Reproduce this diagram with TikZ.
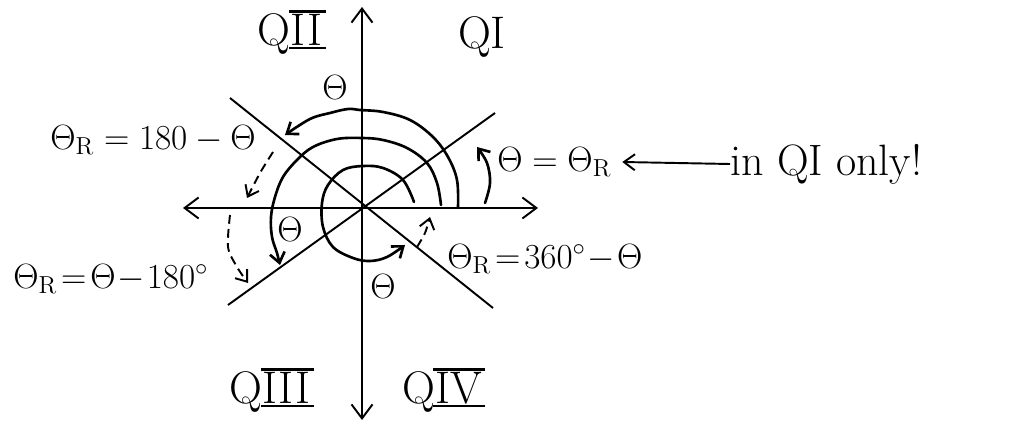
\RequirePackage{fix-cm}
\documentclass[tikz,border=0pt]{standalone}
\usetikzlibrary{arrows.meta}
\newcommand{\rnbar}[1]{\setbox0\hbox{#1}\rlap{\kern-0.04em\rule[-0.09em]{\dimexpr\wd0+0.12em\relax}{0.055em}}\rlap{\kern-0.04em\rule[\dimexpr\ht0+0.03em\relax]{\dimexpr\wd0+0.12em\relax}{0.055em}}\box0}
\newcommand{\tight}{\thickmuskip=2mu\medmuskip=1mu}
\begin{document}
\begin{tikzpicture}[x=0.02cm,y=0.02cm,
  axis/.style={line width=1.1pt,{Straight Barb[length=0.28cm,width=0.42cm]}-{Straight Barb[length=0.28cm,width=0.42cm]}},
  ray/.style={line width=1.1pt},
  turn/.style={line width=1.5pt,line cap=round,-{Straight Barb[length=0.2cm,width=0.3cm]}},
  refl/.style={line width=1.1pt,dash pattern=on 5pt off 3pt,-{Straight Barb[length=0.2cm,width=0.3cm]}},
  lab/.style={font=\fontsize{20}{24}\selectfont, inner sep=0pt},
  note/.style={font=\fontsize{25}{30}\selectfont, inner sep=0pt},
  quad/.style={font=\fontsize{26}{30}\selectfont, inner sep=0pt}]
\useasboundingbox (0,0) rectangle (1031,422);
\coordinate (O) at (362,214);
\coordinate (top) at (362,415);
\coordinate (bottom) at (362,2);
\coordinate (left) at (183,214);
\coordinate (right) at (538,214);
\coordinate (nw) at (230,324);
\coordinate (se) at (493,114);
\coordinate (sw) at (228,117);
\coordinate (ne) at (495,309);
\draw[axis] (bottom) -- (top);
\draw[axis] (left) -- (right);
\draw[ray] (nw) -- (se);
\draw[ray] (sw) -- (ne);
% inner turn (QIV angle)
\draw[turn] plot[smooth,tension=0.6] coordinates {(414,220) (403,242) (383,254) (363,256) (343,252) (328,237) (322,219) (323,195) (333,175) (353,164) (370,161) (387,165) (405,177)};
% second turn (QIII angle)
\draw[turn] plot[smooth,tension=0.6] coordinates {(441,217) (437,239) (427,259) (407,274) (383,282) (362,284) (337,283) (313,275) (297,262) (283,245) (275,225) (271,205) (272,185) (277,169) (280,157)};
% third turn (QII angle)
\draw[turn] plot[smooth,tension=0.6] coordinates {(458,215) (457,242) (448,265) (433,285) (410,302) (383,310) (360,312) (348,313) (330,309) (310,303) (285,287)};
% QI angle
\draw[turn] plot[smooth,tension=0.6] coordinates {(485,219) (490,239) (487,259) (477,275)};
% dashed reference arrows
\draw[refl] plot[smooth] coordinates {(273,270) (260,249) (247,224)};
\draw[refl] plot[smooth] coordinates {(230,207) (228,175) (237,155) (248,139)};
\draw[refl] plot[smooth] coordinates {(417,175) (425,189) (430,205)};
% labels
\node[quad] (q2) at (290,390) {Q\rnbar{II}};
\node[quad] (q1) at (482,385) {QI};
\node[quad] (q3) at (270,32) {Q\rnbar{III}};
\node[quad] (q4) at (442,32) {Q\rnbar{IV}};
\node[lab] (t1) at (335,334) {$\Theta$};
\node[lab,anchor=west] (e1) at (50,282) {$\Theta_{\mathrm{R}} = 180 - \Theta$};
\node[lab,anchor=west] (e2) at (13,143) {$\tight\Theta_{\mathrm{R}} = \Theta - 180^\circ$};
\node[lab] (t3) at (290,192) {$\Theta$};
\node[lab] (t4) at (383,135) {$\Theta$};
\node[lab,anchor=west] (e3) at (447,163) {$\tight\Theta_{\mathrm{R}} = 360^\circ - \Theta$};
\node[lab,anchor=west] (e4) at (497,260) {$\Theta = \Theta_{\mathrm{R}}$};
\node[note,anchor=west] (e5) at (730,258) {in QI only!};
\draw[line width=1.1pt,-{Straight Barb[length=0.22cm,width=0.32cm]}] (e5.west) -- ([xshift=6pt]e4.east);
\end{tikzpicture}
\end{document}
